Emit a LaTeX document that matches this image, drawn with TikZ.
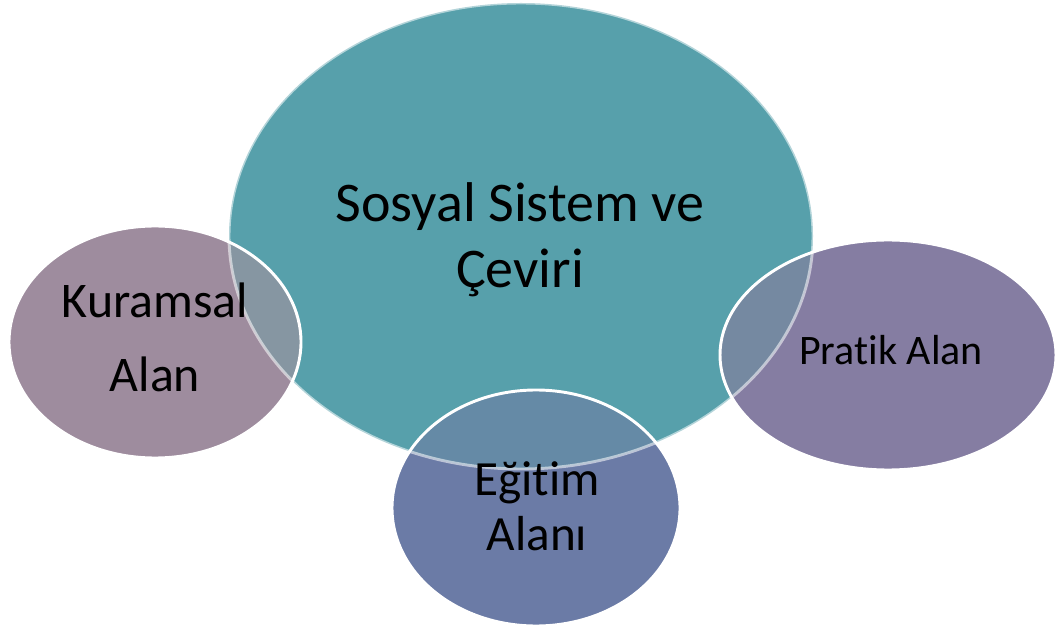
\documentclass[tikz,border=0pt]{standalone}
\usepackage{fontspec}
\setmainfont{Carlito}[RawFeature={-liga;-clig;-calt;-dlig}]
\usepackage{tikz}

\definecolor{tealmain}{RGB}{87,160,171}
\definecolor{kurfill}{RGB}{158,140,158}
\definecolor{kurover}{RGB}{134,150,162}
\definecolor{pratfill}{RGB}{133,125,162}
\definecolor{pratover}{RGB}{117,137,161}
\definecolor{egifill}{RGB}{107,123,166}
\definecolor{egiover}{RGB}{101,138,166}

\begin{document}
\begin{tikzpicture}[x=0.75pt, y=-0.75pt,
  rim/.style={white, line width=2.2pt},
  faintrim/.style={white, opacity=0.55, line width=2.2pt},
  lbl/.style={inner sep=0pt, align=center, anchor=base, text=black}]

\useasboundingbox (0,0) rectangle (1056,630);

\coordinate (sos) at (521,236);
\coordinate (kur) at (155,342);
\coordinate (prat) at (888,355);
\coordinate (egi) at (536,508);

\fill[tealmain] (sos) ellipse (292 and 233);

\fill[kurfill] (kur) ellipse (146 and 116);
\fill[pratfill] (prat) ellipse (168 and 115);
\fill[egifill] (egi) ellipse (144 and 118);

\begin{scope}
\clip (sos) ellipse (292 and 233);
\fill[kurover] (kur) ellipse (146 and 116);
\fill[pratover] (prat) ellipse (168 and 115);
\fill[egiover] (egi) ellipse (144 and 118);
\end{scope}

\draw[faintrim] (sos) ellipse (292 and 233);

\draw[rim] (kur) ellipse (146 and 116);
\draw[rim] (prat) ellipse (168 and 115);
\draw[rim] (egi) ellipse (144 and 118);

% base anchor sits on the last line
\node[lbl, font=\fontsize{42}{49.5}\selectfont] (sostext) at (520,288) {Sosyal Sistem ve\\Çeviri};
\node[lbl, font=\fontsize{37.4}{56}\selectfont] (kurtext) at (155,392) {Kuramsal\\Alan};
\node[lbl, font=\fontsize{31.5}{36}\selectfont] (prattext) at (891,365) {Pratik Alan};
\node[lbl, font=\fontsize{36.9}{41}\selectfont] (egitext) at (537,550) {Eğitim\\Alanı};
\end{tikzpicture}
\end{document}
